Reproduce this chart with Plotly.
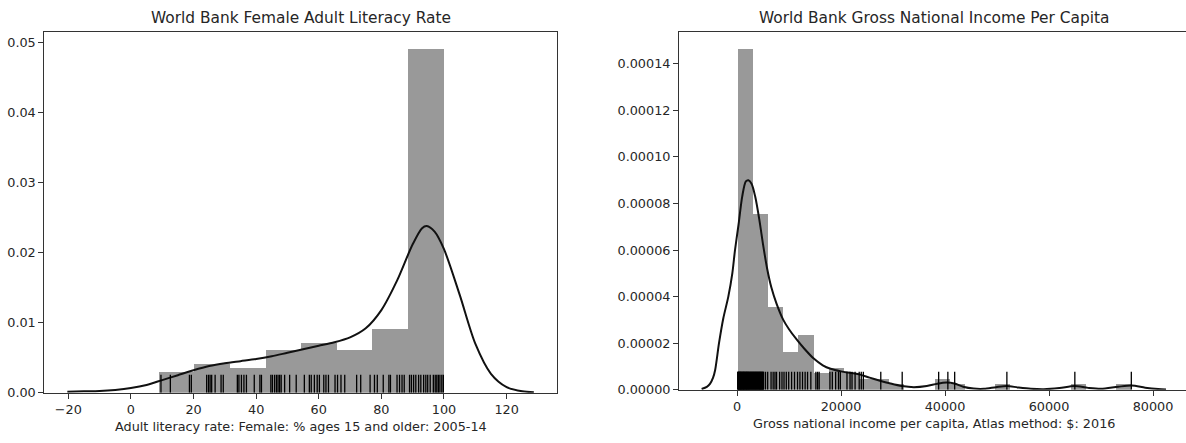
import plotly.graph_objects as go

W, H = 1186, 443

# ---------------- Left panel data: female adult literacy rate ----------------
lit_bin_edges = [9.0, 20.4, 31.75, 43.1, 54.5, 65.9, 77.25, 88.6, 100.0]
lit_hist_density = [0.00305, 0.0042, 0.0036, 0.0061, 0.0072, 0.0061, 0.0091, 0.0491]

lit_kde_x = [-20.3, -15, -10, -5, 0, 5, 10, 15, 20, 25, 30, 35, 40, 45, 50, 55, 60,
             65, 70, 75, 80, 85, 90, 93, 94.5, 97, 100, 105, 110, 115, 120, 125, 128.7]
lit_kde_y = [0.00015, 0.0002, 0.00025, 0.0004, 0.00066, 0.0011, 0.0018, 0.0025, 0.0032,
             0.0038, 0.0042, 0.0045, 0.0048, 0.0052, 0.0057, 0.0062, 0.0067, 0.0072,
             0.0079, 0.0092, 0.0118, 0.0160, 0.0212, 0.0235, 0.0238, 0.0230, 0.0205,
             0.0140, 0.0070, 0.0027, 0.0008, 0.0002, 0.00005]

lit_rug = [9.6, 12.6, 18.7, 19.3, 24.2, 24.8, 25.3, 25.8, 26.9, 28.8, 29.5, 34.0, 34.5,
           35.3, 36.1, 36.9, 39.4, 41.2, 41.7, 44.7, 45.2, 45.9, 46.5, 47.0, 47.5, 48.0,
           49.1, 50.7, 52.8, 55.4, 57.0, 57.6, 58.6, 59.5, 60.2, 61.6, 62.3, 63.1, 65.2,
           66.0, 67.1, 68.3, 72.1, 73.4, 76.4, 77.8, 78.7, 80.6, 82.4, 82.9, 85.0, 85.8,
           86.6, 87.3, 89.0, 89.6, 90.3, 91.0, 91.9, 92.6, 93.5, 94.2, 94.8, 95.6, 96.6,
           97.2, 97.7, 98.2, 98.7, 99.3, 99.8]

lit_xticks = [-20, 0, 20, 40, 60, 80, 100, 120]
lit_yticks = [0.00, 0.01, 0.02, 0.03, 0.04, 0.05]

# ---------------- Right panel data: GNI per capita ----------------
gni_bin_edges = [180, 3090, 6000, 8910, 11820, 14730, 17640, 20550, 23460, 26370, 29280,
                 32190, 35100, 38010, 40920, 43830, 46740, 49650, 52560, 55470, 58380,
                 61290, 64200, 67110, 70020, 72930, 75840]
gni_hist_density = [0.0001465, 0.0000754, 0.0000356, 0.0000164, 0.0000237, 0.0000075,
                    0.0000096, 0.0000072, 0.0000048, 0.0000048, 0.0000024, 0.0, 0.0,
                    0.0000048, 0.0000024, 0.0, 0.0, 0.0000024, 0.0, 0.0, 0.0, 0.0,
                    0.0000024, 0.0, 0.0, 0.0000024]

gni_kde_x = [-6800, -5800, -5200, -4600, -4200, -3460, -2630, -1670, -900, -385, 300, 1000,
             1700, 2200, 2800, 3500, 4300, 5060, 5800, 6600, 7600, 8900, 10000, 11500,
             13000, 14700, 16500, 18000, 20000, 22000, 23700, 25500, 27500, 29500, 31700,
             34000, 36500, 38500, 40300, 41800, 43500, 45500, 47500, 49800, 51900, 54000,
             56500, 59000, 62000, 64900, 67500, 70000, 73300, 75900, 78500, 81000, 82500]
gni_kde_y = [0.0000003, 0.0000012, 0.0000025, 0.0000052, 0.0000085, 0.00002, 0.0000307,
             0.00004, 0.000050, 0.00006, 0.000071, 0.000083, 0.0000895, 0.00009,
             0.0000885, 0.000083, 0.000073, 0.0000617, 0.000052, 0.000044, 0.000037,
             0.000030, 0.000026, 0.0000215, 0.0000175, 0.0000135, 0.0000105, 0.000009,
             0.0000079, 0.0000072, 0.0000065, 0.0000052, 0.0000039, 0.0000027, 0.0000016,
             0.0000011, 0.0000016, 0.0000026, 0.0000031, 0.0000027, 0.0000013, 0.0000005,
             0.0000004, 0.0000011, 0.0000016, 0.000001, 0.0000004, 0.0000002, 0.0000007,
             0.0000016, 0.0000008, 0.0000004, 0.0000013, 0.0000018, 0.0000009, 0.0000003,
             0.0000001]

gni_rug = [130, 210, 260, 340, 390, 470, 530, 580, 660, 720, 790, 850, 940, 990, 1070,
           1130, 1220, 1290, 1330, 1410, 1490, 1560, 1640, 1700, 1790, 1860, 1910, 1990,
           2080, 2150, 2200, 2290, 2370, 2440, 2530, 2610, 2690, 2760, 2850, 2930, 3020,
           3080, 3170, 3260, 3310, 3400, 3490, 3580, 3640, 3720, 3810, 3890, 3980, 4050,
           4130, 4220, 4300, 4370, 4460, 4540, 4610, 4700, 4790, 4860, 4940, 5030, 5110,
           5480, 5900, 6550, 6950, 7300, 7600, 8200, 8650, 9040, 9480, 9940, 10500, 11060,
           11640, 12100, 12600, 13100, 13570, 14200, 15170, 15500, 15800, 17870, 18330,
           18970, 19520, 19870, 21150, 21740, 22120, 22710, 23500, 23900, 24300, 27650,
           31770, 38780, 40550, 41860, 51900, 64970, 75830]

gni_xticks = [0, 20000, 40000, 60000, 80000]
gni_yticks = [0.0, 0.00002, 0.00004, 0.00006, 0.00008, 0.00010, 0.00012, 0.00014]

# ---------------- Styling / layout constants ----------------
FONT = "DejaVu Sans"
TXT = "#262626"
BAR = "#999999"
LINE = "#333333"

L_DOM_X = [44.3 / W, 556.7 / W]
L_DOM_Y = [(H - 399) / H, (H - 32.3) / H]
R_DOM_X = [679 / W, 1.0]
R_DOM_Y = [(H - 396) / H, (H - 32.3) / H]

L_XR = [-27.66, 136.0]
L_YR = [0, 0.05155]
R_XR = [-11154, 86346]
R_YR = [0, 0.0001538]


def bars(edges, dens, xa, ya):
    centers = [(a + b) / 2 for a, b in zip(edges[:-1], edges[1:])]
    widths = [(b - a) for a, b in zip(edges[:-1], edges[1:])]
    return go.Bar(x=centers, y=dens, width=widths, marker=dict(color=BAR, line=dict(width=0)),
                  xaxis=xa, yaxis=ya, showlegend=False, hoverinfo="skip")


def rug(vals, top, xa, ya):
    xs, ys = [], []
    for v in vals:
        xs += [v, v, None]
        ys += [0, top, None]
    return go.Scatter(x=xs, y=ys, mode="lines", line=dict(color="black", width=1.3),
                      xaxis=xa, yaxis=ya, showlegend=False, hoverinfo="skip")


fig = go.Figure()
fig.add_trace(bars(lit_bin_edges, lit_hist_density, "x", "y"))
fig.add_trace(go.Scatter(x=lit_kde_x, y=lit_kde_y, mode="lines",
                         line=dict(color="#111111", width=2, shape="spline", smoothing=0.8),
                         xaxis="x", yaxis="y", showlegend=False))
fig.add_trace(rug(lit_rug, 0.05 * L_YR[1], "x", "y"))

fig.add_trace(bars(gni_bin_edges, gni_hist_density, "x2", "y2"))
fig.add_trace(go.Scatter(x=gni_kde_x, y=gni_kde_y, mode="lines",
                         line=dict(color="#111111", width=2, shape="spline", smoothing=0.8),
                         xaxis="x2", yaxis="y2", showlegend=False))
fig.add_trace(rug(gni_rug, 0.05 * R_YR[1], "x2", "y2"))

axis_common = dict(showgrid=False, zeroline=False, showline=True, linecolor=LINE, linewidth=1,
                   ticks="outside", ticklen=5, tickwidth=1, tickcolor=LINE,
                   tickfont=dict(family=FONT, size=12.8, color=TXT))

fig.update_layout(
    width=W, height=H,
    margin=dict(l=0, r=0, t=0, b=0),
    paper_bgcolor="white", plot_bgcolor="white",
    bargap=0,
    xaxis=dict(domain=L_DOM_X, range=L_XR, anchor="y", mirror=True, tickvals=lit_xticks,
               **axis_common),
    yaxis=dict(domain=L_DOM_Y, range=L_YR, anchor="x", mirror=True, tickvals=lit_yticks,
               tickformat=".2f", **axis_common),
    xaxis2=dict(domain=R_DOM_X, range=R_XR, anchor="y2", mirror=True, tickvals=gni_xticks,
                tickformat="d", **axis_common),
    yaxis2=dict(domain=R_DOM_Y, range=R_YR, anchor="x2", mirror=False, tickvals=gni_yticks,
                tickformat=".5f", **axis_common),
)

title_font = dict(family=FONT, size=15.4, color=TXT)
label_font = dict(family=FONT, size=12.8, color=TXT)
annots = [
    dict(text="World Bank Female Adult Literacy Rate", x=300.5 / W, y=1 - 18.3 / H,
         font=title_font),
    dict(text="World Bank Gross National Income Per Capita", x=934 / W, y=1 - 18.3 / H,
         font=title_font),
    dict(text="Adult literacy rate: Female: % ages 15 and older: 2005-14", x=300.5 / W,
         y=1 - 433.3 / H, font=label_font),
    dict(text="Gross national income per capita, Atlas method: $: 2016", x=934 / W,
         y=1 - 430 / H, font=label_font),
]
for a in annots:
    fig.add_annotation(xref="paper", yref="paper", showarrow=False, xanchor="center",
                       yanchor="middle", **a)

fig.write_html("out.html", config={"displayModeBar": False},
               post_script="document.body.style.margin='0px';document.body.style.overflow='hidden';")
